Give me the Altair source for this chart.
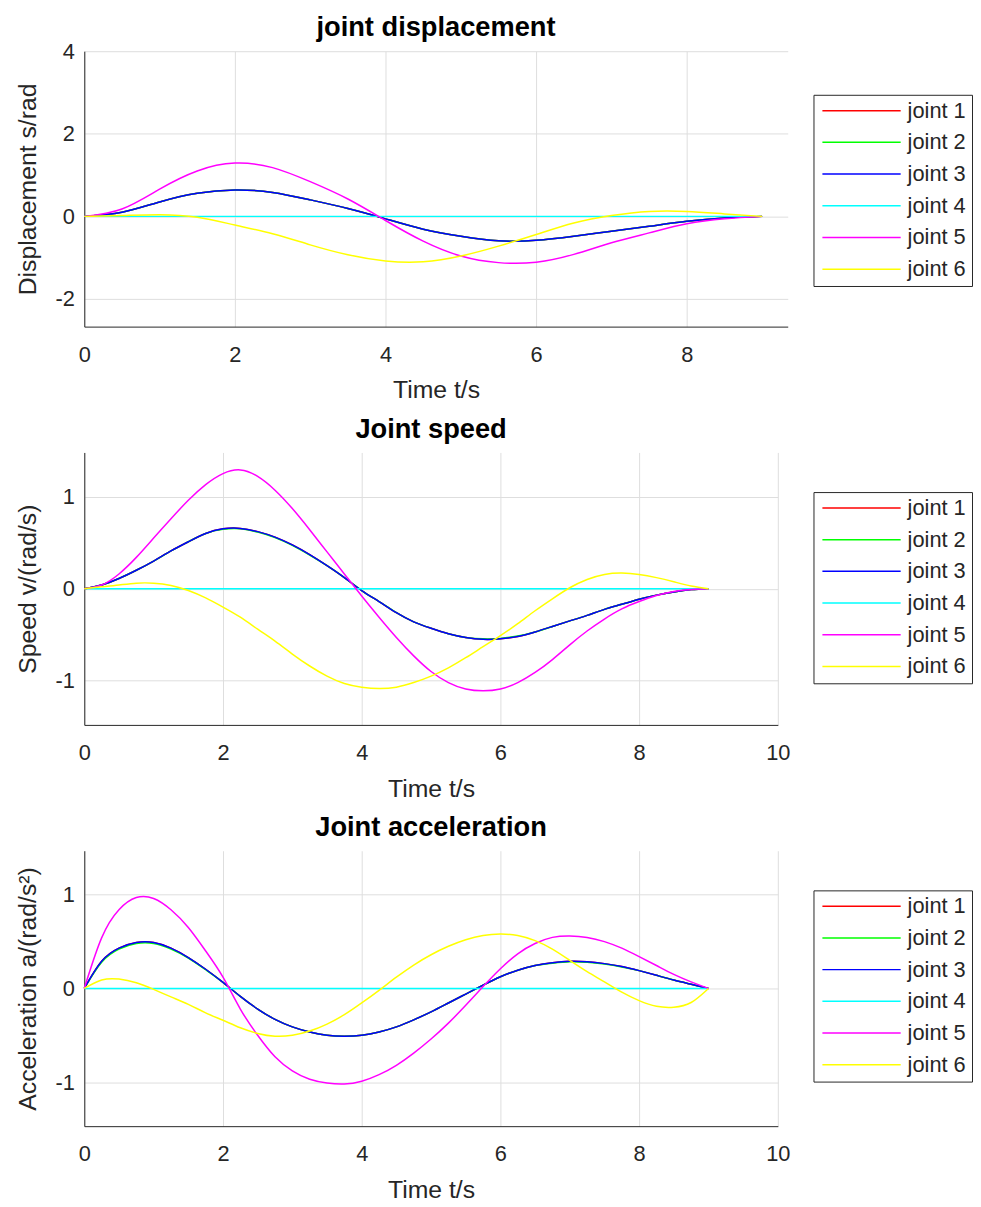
import altair as alt
import pandas as pd

JOINTS = ["joint 1", "joint 2", "joint 3", "joint 4", "joint 5", "joint 6"]
COLORS = ["#ff0000", "#00ff00", "#0000ff", "#00ffff", "#ff00ff", "#ffff00"]

# ---------------- displacement (read at 0.5 s steps) ----------------
t_disp = [0, 0.5, 1, 1.5, 2, 2.5, 3, 3.5, 4, 4.5, 5, 5.5, 6, 6.5, 7, 7.5, 8, 8.5, 9]
disp_j1 = [0, .10, .35, .56, .64, .58, .40, .19, -.06, -.31, -.48, -.59, -.58, -.48, -.36, -.24, -.12, -.04, 0]
disp_j2 = [0, .10, .35, .56, .64, .58, .40, .19, -.06, -.31, -.48, -.59, -.58, -.48, -.36, -.24, -.12, -.04, 0]
disp_j3 = [0, .10, .35, .56, .64, .58, .40, .19, -.06, -.31, -.48, -.59, -.58, -.48, -.36, -.24, -.12, -.04, 0]
disp_j4 = [0, 0, 0, 0, 0, 0, 0, 0, 0, 0, 0, 0, 0, 0, 0, 0, 0, 0, 0]
disp_j5 = [0, .18, .66, 1.10, 1.29, 1.18, .84, .42, -.10, -.60, -.96, -1.12, -1.11, -.92, -.64, -.40, -.18, -.06, 0]
disp_j6 = [0, .02, .04, -.02, -.21, -.42, -.69, -.93, -1.08, -1.10, -.96, -.72, -.44, -.16, .02, .12, .12, .06, 0]

# ---------------- speed / acceleration (read at 0.25 s steps) ----------------
t_fine = [0, 0.25, 0.5, 0.75, 1, 1.25, 1.5, 1.75, 2, 2.25, 2.5, 2.75, 3, 3.25, 3.5, 3.75,
          4, 4.25, 4.5, 4.75, 5, 5.25, 5.5, 5.75, 6, 6.25, 6.5, 6.75, 7, 7.25, 7.5, 7.75,
          8, 8.25, 8.5, 8.75, 9]

spd_j1 = [0, .04, .11, .20, .30, .41, .51, .60, .65, .655, .62, .56, .475, .37, .25, .12, -.02, -.14, -.26,
          -.36, -.43, -.49, -.53, -.55, -.545, -.52, -.47, -.41, -.35, -.29, -.225, -.17, -.115, -.07, -.035, -.01, 0]
spd_j2 = [0, .04, .11, .20, .30, .41, .51, .60, .645, .65, .615, .555, .47, .365, .25, .12, -.02, -.14, -.26,
          -.36, -.43, -.49, -.53, -.545, -.54, -.515, -.47, -.41, -.35, -.29, -.225, -.17, -.115, -.07, -.035, -.01, 0]
spd_j3 = [0, .04, .11, .20, .30, .41, .51, .60, .65, .655, .62, .56, .475, .37, .25, .12, -.02, -.14, -.26,
          -.36, -.43, -.49, -.53, -.55, -.545, -.52, -.47, -.41, -.35, -.29, -.225, -.17, -.115, -.07, -.035, -.01, 0]
spd_j4 = [0, 0, 0, 0, 0, 0, 0, 0, 0, 0, 0, 0, 0, 0, 0, 0, 0, 0, 0, 0, 0, 0, 0, 0, 0, 0, 0, 0, 0, 0, 0, 0, 0, 0, 0, 0, 0]
spd_j5 = [0, .04, .16, .34, .55, .76, .96, 1.13, 1.25, 1.29, 1.22, 1.07, .87, .64, .40, .16, -.08, -.31, -.53,
          -.73, -.90, -1.02, -1.09, -1.11, -1.09, -1.02, -.91, -.77, -.61, -.46, -.33, -.22, -.14, -.075, -.03, -.008, 0]
spd_j6 = [0, .02, .04, .06, .06, .035, -.02, -.10, -.20, -.31, -.44, -.57, -.71, -.84, -.95, -1.03, -1.07, -1.085, -1.07,
          -1.02, -.95, -.86, -.75, -.63, -.51, -.38, -.24, -.11, .01, .10, .155, .17, .155, .12, .075, .03, 0]

acc_j1 = [0, .29, .43, .49, .49, .43, .33, .205, .065, -.085, -.22, -.33, -.41, -.465, -.50, -.51, -.50, -.465, -.41,
          -.335, -.25, -.155, -.06, .035, .125, .195, .245, .275, .29, .285, .265, .235, .19, .14, .09, .045, 0]
acc_j2 = [0, .28, .42, .48, .48, .42, .325, .20, .065, -.085, -.22, -.33, -.41, -.465, -.50, -.51, -.50, -.465, -.41,
          -.335, -.25, -.155, -.06, .035, .125, .195, .245, .27, .285, .28, .26, .23, .19, .14, .09, .045, 0]
acc_j3 = [0, .29, .43, .49, .49, .43, .33, .205, .065, -.085, -.22, -.33, -.41, -.465, -.50, -.51, -.50, -.465, -.41,
          -.335, -.25, -.155, -.06, .035, .125, .195, .245, .275, .29, .285, .265, .235, .19, .14, .09, .045, 0]
acc_j4 = [0, 0, 0, 0, 0, 0, 0, 0, 0, 0, 0, 0, 0, 0, 0, 0, 0, 0, 0, 0, 0, 0, 0, 0, 0, 0, 0, 0, 0, 0, 0, 0, 0, 0, 0, 0, 0]
acc_j5 = [0, .54, .84, .97, .96, .84, .65, .40, .12, -.22, -.50, -.73, -.88, -.97, -1.01, -1.02, -.99, -.92, -.82,
          -.69, -.54, -.37, -.18, .02, .21, .37, .48, .545, .56, .545, .50, .43, .34, .245, .15, .07, 0]
acc_j6 = [0, .09, .10, .06, -.01, -.09, -.17, -.26, -.34, -.42, -.48, -.51, -.50, -.455, -.38, -.28, -.155, -.02, .12,
          .25, .36, .45, .52, .565, .58, .565, .51, .42, .30, .18, .07, -.04, -.13, -.19, -.20, -.15, 0]

FONT = "Liberation Sans"


def frame(t, series):
    rows = []
    for name, vals in zip(JOINTS, series):
        for ti, v in zip(t, vals):
            rows.append({"t": ti, "v": v, "joint": name})
    return pd.DataFrame(rows)


def panel(df, title, title_offset, ytitle, xdom, xticks, ydom, yticks, width, height, legend_y):
    return alt.Chart(df).mark_line(strokeWidth=1.5, interpolate="natural").encode(
        x=alt.X("t:Q", scale=alt.Scale(domain=xdom, nice=False, zero=False),
                axis=alt.Axis(values=xticks, title="Time t/s", labelExpr="'' + datum.value")),
        y=alt.Y("v:Q", scale=alt.Scale(domain=ydom, nice=False, zero=False),
                axis=alt.Axis(values=yticks, title=ytitle, labelExpr="'' + datum.value")),
        color=alt.Color("joint:N", scale=alt.Scale(domain=JOINTS, range=COLORS),
                        sort=JOINTS,
                        legend=alt.Legend(title=None, orient="none", legendX=736, legendY=legend_y)),
    ).properties(
        width=width, height=height,
        title=alt.TitleParams(title, fontSize=27.5, fontWeight="bold", font=FONT, color="black",
                              anchor="middle", frame="group", baseline="alphabetic",
                              offset=title_offset),
    )


top = panel(frame(t_disp, [disp_j1, disp_j2, disp_j3, disp_j4, disp_j5, disp_j6]),
            "joint displacement", -23, "Displacement s/rad",
            [0, 9.34], [0, 2, 4, 6, 8], [-2.67, 4], [-2, 0, 2, 4], 710, 278, 44)
mid = panel(frame(t_fine, [spd_j1, spd_j2, spd_j3, spd_j4, spd_j5, spd_j6]),
            "Joint speed", -12.5, "Speed v/(rad/s)",
            [0, 10], [0, 2, 4, 6, 8, 10], [-1.48, 1.48], [-1, 0, 1], 700, 275, 40)
bot = panel(frame(t_fine, [acc_j1, acc_j2, acc_j3, acc_j4, acc_j5, acc_j6]),
            "Joint acceleration", -12.5, "Acceleration a/(rad/s²)",
            [0, 10], [0, 2, 4, 6, 8, 10], [-1.47, 1.47], [-1, 0, 1], 700, 278, 40)

chart = alt.vconcat(top, mid, bot, spacing=13).resolve_scale(
    color="independent", x="independent", y="independent"
).properties(
    padding={"left": 7, "top": 0, "right": 0, "bottom": 0}
).configure_view(stroke=None).configure_axis(
    labelFont=FONT, labelFontSize=22, labelColor="#262626",
    titleFont=FONT, titleFontSize=25, titleFontWeight="normal", titleColor="#262626",
    domainColor="#262626", domainWidth=1, gridColor="#dedede", gridWidth=1,
    ticks=False, labelFlush=False, labelOverlap=False,
).configure_axisX(labelPadding=18, titlePadding=13).configure_axisY(
    labelPadding=10, titlePadding=15
).configure_legend(
    labelFont=FONT, labelFontSize=22, labelColor="#262626",
    strokeColor="#262626", fillColor="white", padding=6,
    symbolType="stroke", symbolSize=6241, symbolStrokeWidth=1.5,
    clipHeight=20, rowPadding=10, labelOffset=6, symbolOffset=2,
)

chart.save("out.html", embed_options={"renderer": "svg", "actions": False})
